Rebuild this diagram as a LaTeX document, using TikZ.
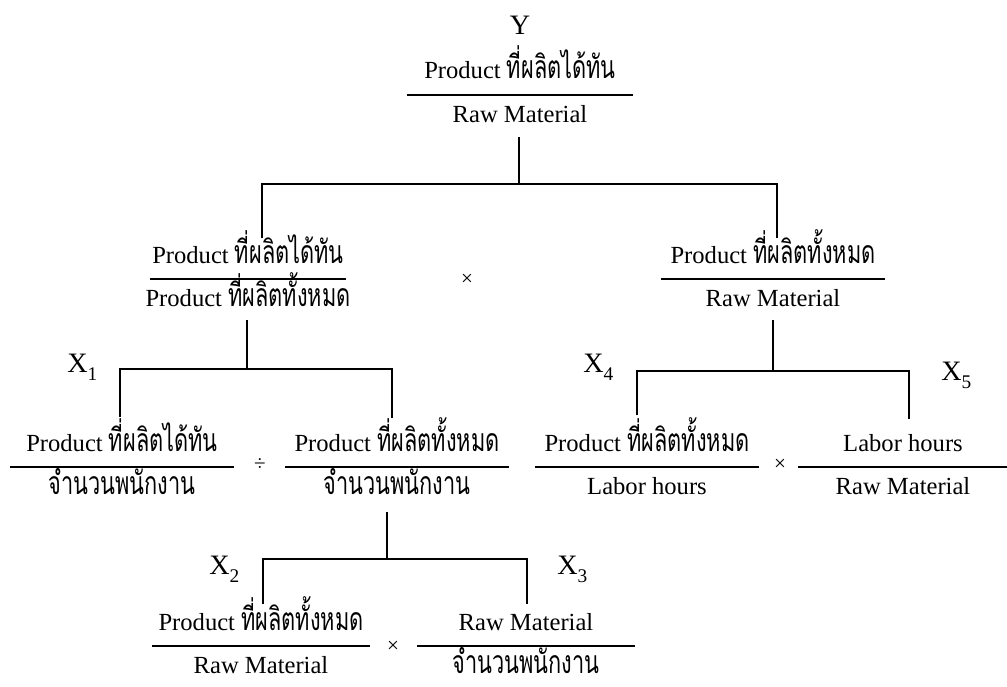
\documentclass[tikz,border=0pt]{standalone}
\usepackage{fontspec}
\setmainfont{Liberation Serif}
\newfontfamily\thaifont[Script=Thai,Scale=1.3,FakeStretch=0.68]{Loma}
\usetikzlibrary{positioning}

\newcommand{\thai}[1]{{\thaifont #1}}
\newcommand{\sub}[1]{\raisebox{-5pt}{\fontsize{11}{11}\selectfont #1}}
% a ratio: name, x, y of its bar, half width, numerator, denominator
\newcommand{\ratio}[6]{%
  \draw[bar] (#2-#4,#3) -- (#2+#4,#3);
  \node[txt] (#1-n) at (#2,#3-16) {#5};
  \node[txt] (#1-d) at (#2,#3+27) {#6};
}

\tikzset{
  txt/.style={anchor=base, inner sep=0pt, font=\fontsize{14}{16}\selectfont},
  lbl/.style={anchor=base west, inner sep=0pt, font=\fontsize{16}{18}\selectfont},
  op/.style={inner sep=0pt, font=\fontsize{12}{12}\selectfont},
  bar/.style={line width=0.9pt},
  link/.style={line width=0.9pt},
}

\begin{document}
\begin{tikzpicture}[x=0.02cm, y=-0.02cm]

    \useasboundingbox (0,0) rectangle (1007,686);

    % top of the tree
    \node[lbl, anchor=base] (y) at (520,35) {Y};
    \ratio{yield}{520}{95}{113}{Product \thai{ที่ผลิตได้ทัน}}{Raw Material}

    % second row
    \ratio{ontime}{248}{279}{98}{Product \thai{ที่ผลิตได้ทัน}}{Product \thai{ที่ผลิตทั้งหมด}}
    \node[op] (mul1) at (467,280) {×};
    \ratio{output}{773}{279}{112}{Product \thai{ที่ผลิตทั้งหมด}}{Raw Material}

    % third row
    \ratio{xa}{122}{467}{112}{Product \thai{ที่ผลิตได้ทัน}}{\thai{จำนวนพนักงาน}}
    \node[op] (div1) at (260,465) {÷};
    \ratio{xb}{397}{467}{112}{Product \thai{ที่ผลิตทั้งหมด}}{\thai{จำนวนพนักงาน}}
    \ratio{xd}{647}{467}{112}{Product \thai{ที่ผลิตทั้งหมด}}{Labor hours}
    \node[op] (mul2) at (780,465) {×};
    \ratio{xe}{903}{467}{105}{Labor hours}{Raw Material}

    % fourth row
    \ratio{xf}{261}{646}{109}{Product \thai{ที่ผลิตทั้งหมด}}{Raw Material}
    \node[op] (mul3) at (393,647) {×};
    \ratio{xg}{526}{646}{109}{Raw Material}{\thai{จำนวนพนักงาน}}

    % factor labels
    \node[lbl] (x1) at (67,372) {X\sub{1}};
    \node[lbl] (x2) at (209,574) {X\sub{2}};
    \node[lbl] (x3) at (557,574) {X\sub{3}};
    \node[lbl] (x4) at (583,372) {X\sub{4}};
    \node[lbl] (x5) at (941,380) {X\sub{5}};

    % stems and branches
    \coordinate (s0) at (519,137);
    \coordinate (s1) at (247,320);
    \coordinate (s2) at (773,320);
    \coordinate (s3) at (387,512);

    \draw[link] (s0) -- (s0 |- 0,184);
    \draw[link] (262,238) |- (777,184) -- (777,238);

    \draw[link] (s1) -- (s1 |- 0,369);
    \draw[link] (120,417) |- (392,369) -- (392,418);

    \draw[link] (s2) -- (s2 |- 0,371);
    \draw[link] (637,415) |- (909,371) -- (909,419);

    \draw[link] (s3) -- (s3 |- 0,559);
    \draw[link] (263,604) |- (527,559) -- (527,604);

\end{tikzpicture}
\end{document}
